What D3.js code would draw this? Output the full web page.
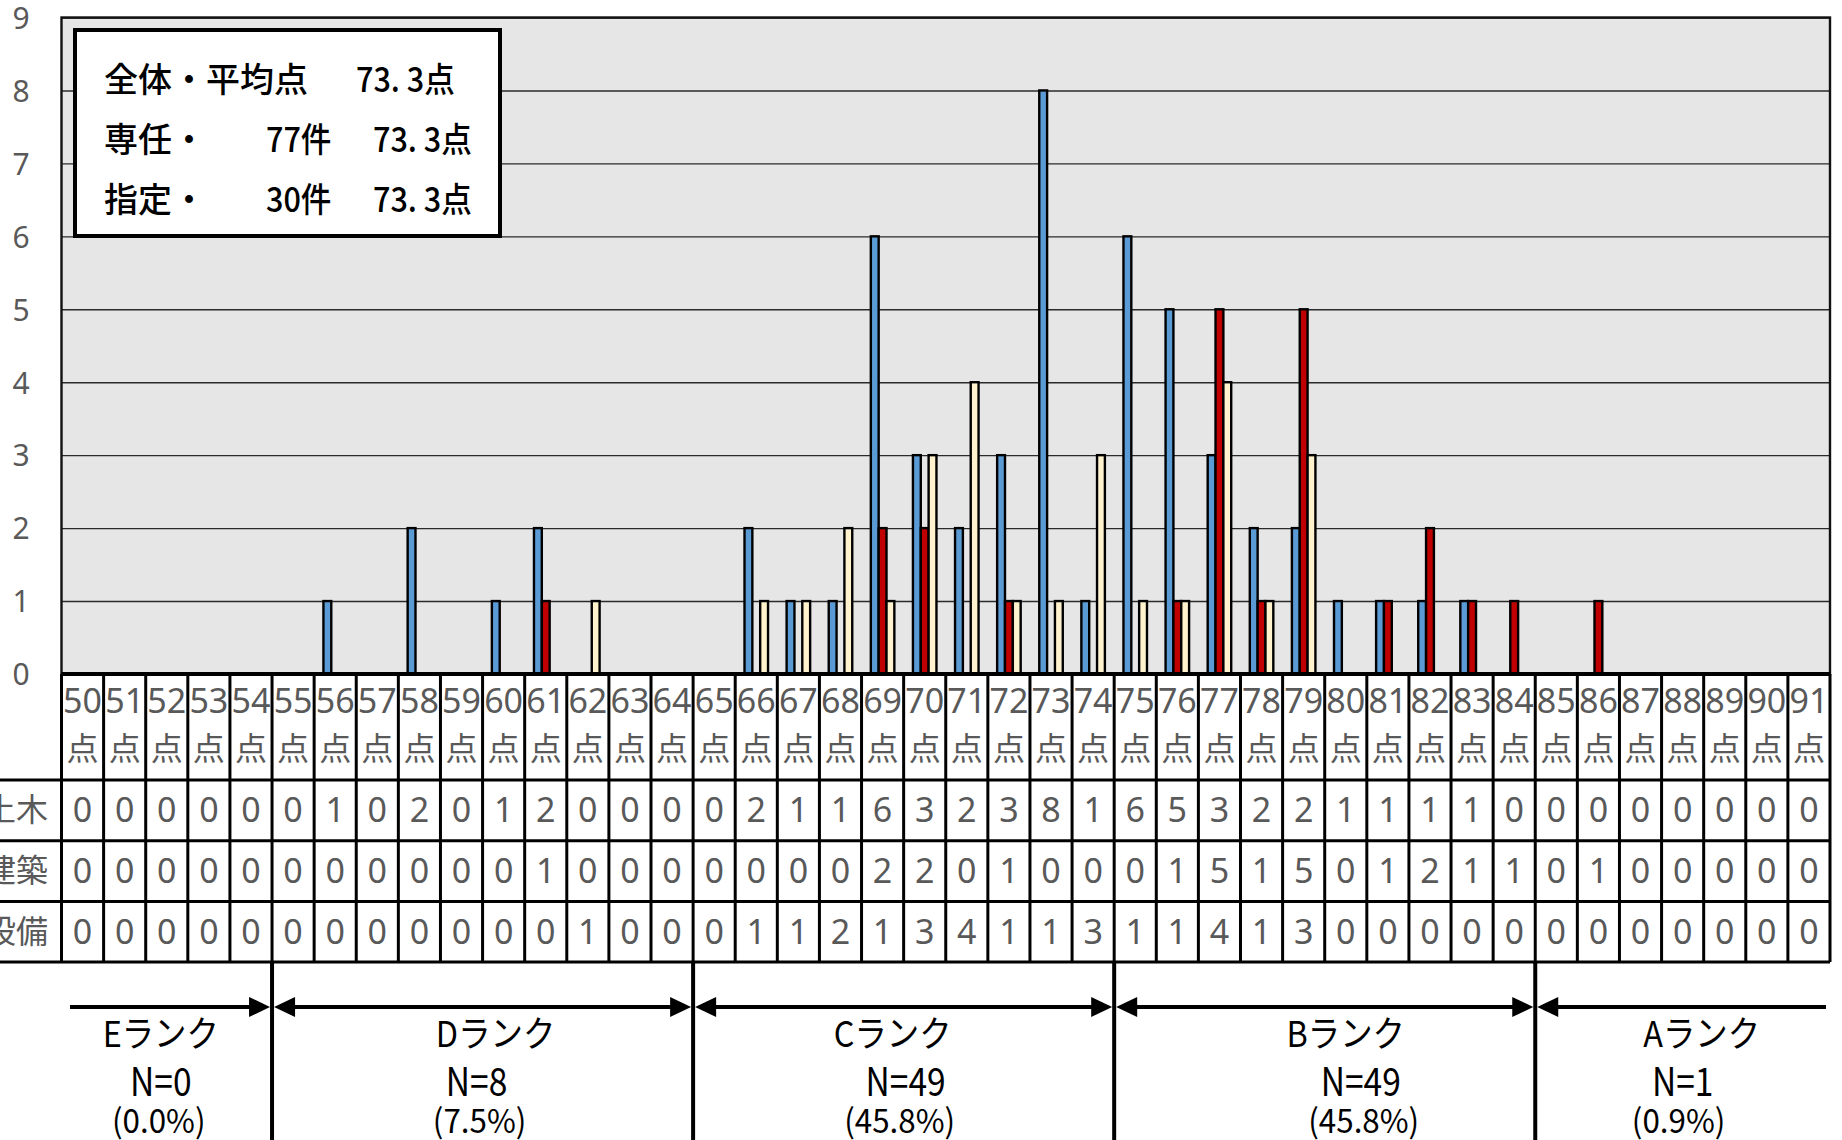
<!DOCTYPE html>
<html><head><meta charset="utf-8">
<script src="https://cdn.jsdelivr.net/npm/d3@7"></script>
<style>
html,body{margin:0;padding:0;background:#fff;overflow:hidden;}
svg{display:block;}
</style></head>
<body>
<svg id="chart" width="1842" height="1140"></svg>
<script>
// ---------- data ----------
const categories = d3.range(50, 92).map(String); // 50..91 点
const seriesNames = ["土木", "建築", "設備"];
const doboku  = [0,0,0,0,0,0,1,0,2,0,1,2,0,0,0,0,2,1,1,6,3,2,3,8,1,6,5,3,2,2,1,1,1,1,0,0,0,0,0,0,0,0];
const kenchiku= [0,0,0,0,0,0,0,0,0,0,0,1,0,0,0,0,0,0,0,2,2,0,1,0,0,0,1,5,1,5,0,1,2,1,1,0,1,0,0,0,0,0];
const setsubi = [0,0,0,0,0,0,0,0,0,0,0,0,1,0,0,0,1,1,2,1,3,4,1,1,3,1,1,4,1,3,0,0,0,0,0,0,0,0,0,0,0,0];
const seriesValues = [doboku, kenchiku, setsubi];
const seriesColors = ["#5b9bd5", "#c00000", "#fff2cc"];
const yTicks = [0,1,2,3,4,5,6,7,8,9];
const legendLines = [
  ["全体・平均点", "", "73. 3点"],
  ["専任・", "77件", "73. 3点"],
  ["指定・", "30件", "73. 3点"]
];
const rankNames = ["Eランク", "Dランク", "Cランク", "Bランク", "Aランク"];
const rankN     = ["N=0", "N=8", "N=49", "N=49", "N=1"];
const rankPct   = ["(0.0%)", "(7.5%)", "(45.8%)", "(45.8%)", "(0.9%)"];
const rankFirst = ["50", "55", "65", "75", "85"];
const rankLast  = ["54", "64", "74", "84", "91"];

// ---------- layout ----------
const svg = d3.select("#chart");
const L = 61.5, R = 1830, T = 17.5, B = 674;
const hdrBot = 780, rowH = 60.7;
const gray = "#595959";
const jp = "'Noto Sans CJK JP', 'Noto Sans', sans-serif";
const lat = "'Noto Sans', 'Open Sans', sans-serif";

const x = d3.scaleBand().domain(categories).range([L, R]).padding(0);
const bw = x.bandwidth();
const gw = bw / 1.79;
const xs = d3.scaleBand().domain(seriesNames).range([(bw - gw) / 2, (bw + gw) / 2]).padding(0);
const y = d3.scaleLinear().domain([0, 9]).range([B, T]);

// plot background
svg.append("rect").attr("x", L).attr("y", T).attr("width", R - L).attr("height", B - T)
  .attr("fill", "#e6e6e6");

// gridlines + y labels via axis
const yAxis = svg.append("g").attr("transform", `translate(${L},0)`)
  .call(d3.axisLeft(y).tickValues(yTicks).tickSize(-(R - L)).tickPadding(0));
yAxis.select(".domain").remove();
yAxis.selectAll(".tick line").attr("stroke", "#2a2a2a").attr("stroke-width", 1.4);
yAxis.selectAll(".tick text").attr("x", 21 - L).attr("dy", "0.36em").attr("text-anchor", "middle")
  .attr("fill", gray).style("font-family", lat).style("font-size", "30px");

// bars
seriesNames.forEach((s, si) => {
  const data = categories.map((c, i) => ({c, v: seriesValues[si][i]})).filter(d => d.v > 0);
  svg.append("g").selectAll("rect").data(data).join("rect")
    .attr("x", d => x(d.c) + xs(s))
    .attr("y", d => y(d.v))
    .attr("width", xs.bandwidth())
    .attr("height", d => y(0) - y(d.v))
    .attr("fill", seriesColors[si])
    .attr("stroke", "#000").attr("stroke-width", 2.4);
});

// plot border
svg.append("rect").attr("x", L).attr("y", T).attr("width", R - L).attr("height", B - T)
  .attr("fill", "none").attr("stroke", "#111").attr("stroke-width", 2.4);

// legend box
const lg = svg.append("g");
lg.append("rect").attr("x", 75).attr("y", 30).attr("width", 425).attr("height", 206)
  .attr("fill", "#fff").attr("stroke", "#000").attr("stroke-width", 4);
const lgX = [[104, 0, 356], [104, 266, 373], [104, 266, 373]];
legendLines.forEach((ln, i) => {
  ln.forEach((t, j) => {
    if (!t) return;
    lg.append("text").attr("transform", `translate(${lgX[i][j]},${92 + i * 60}) scale(${j === 0 ? 1 : 0.9},1)`)
      .text(t).style("font-family", jp).style("font-size", "34px").style("font-weight", 500)
      .attr("fill", "#000");
  });
});

// ---------- data table ----------
const tb = svg.append("g");
const rowTops = [hdrBot, hdrBot + rowH, hdrBot + 2 * rowH];
const tableBot = hdrBot + 3 * rowH;
tb.append("rect").attr("x", L).attr("y", B).attr("width", R - L).attr("height", tableBot - B).attr("fill", "#fff");
// header text
categories.forEach(c => {
  const cx = x(c) + bw / 2;
  tb.append("text").attr("x", cx).attr("y", 713).attr("text-anchor", "middle").text(c)
    .style("font-family", lat).style("font-size", "34px").attr("fill", gray);
  tb.append("text").attr("x", cx).attr("y", 760).attr("text-anchor", "middle").text("点")
    .style("font-family", jp).style("font-size", "32px").attr("fill", gray);
});
// values
seriesNames.forEach((s, si) => {
  const cy = rowTops[si] + rowH / 2;
  tb.append("text").attr("x", 48).attr("y", cy + 11).attr("text-anchor", "end").text(s)
    .style("font-family", jp).style("font-size", "32px").attr("fill", gray);
  categories.forEach((c, i) => {
    tb.append("text").attr("x", x(c) + bw / 2).attr("y", cy + 12).attr("text-anchor", "middle")
      .text(seriesValues[si][i]).style("font-family", lat).style("font-size", "34px").attr("fill", gray);
  });
});
// grid lines of table
tb.append("line").attr("x1", L).attr("x2", R).attr("y1", B).attr("y2", B)
  .attr("stroke", "#000").attr("stroke-width", 4);
[hdrBot, ...rowTops.slice(1), tableBot].forEach(yy => {
  tb.append("line").attr("x1", 0).attr("x2", R).attr("y1", yy).attr("y2", yy)
    .attr("stroke", "#000").attr("stroke-width", 3);
});
categories.concat(["end"]).forEach((c, i) => {
  const xx = i < categories.length ? x(c) : R;
  tb.append("line").attr("x1", xx).attr("x2", xx).attr("y1", B).attr("y2", tableBot)
    .attr("stroke", "#000").attr("stroke-width", 3);
});

// ---------- rank section ----------
const rk = svg.append("g");
const arrowY = 1007, ah = 21, aw = 10;
const dividers = rankFirst.slice(1).map(c => x(c));
dividers.forEach(xx => {
  rk.append("line").attr("x1", xx).attr("x2", xx).attr("y1", tableBot).attr("y2", 1140)
    .attr("stroke", "#000").attr("stroke-width", 4);
});
function head(xTip, dir) {
  const p = d3.path();
  p.moveTo(xTip, arrowY);
  p.lineTo(xTip - dir * ah, arrowY - aw);
  p.lineTo(xTip - dir * ah, arrowY + aw);
  p.closePath();
  rk.append("path").attr("d", p.toString()).attr("fill", "#000");
}
function rtext(cx, yy, t, size, sx) {
  rk.append("text").attr("transform", `translate(${cx},${yy}) scale(${sx},1)`)
    .attr("text-anchor", "middle").text(t)
    .style("font-family", jp).style("font-size", size + "px").attr("fill", "#000");
}
const textDx = [[-6, -6, -8], [13, -6, -3], [-11, 2, -4], [21, 36, 39], [19, 0, -4]];
rankNames.forEach((nm, i) => {
  const x0 = x(rankFirst[i]);
  const x1 = x(rankLast[i]) + bw;
  const leftHead = i > 0, rightHead = i < rankNames.length - 1;
  const lx0 = leftHead ? x0 + 2 : 70;
  const lx1 = rightHead ? x1 - 2 : 1826;
  rk.append("line").attr("x1", lx0 + (leftHead ? ah - 2 : 0)).attr("x2", lx1 - (rightHead ? ah - 2 : 0))
    .attr("y1", arrowY).attr("y2", arrowY).attr("stroke", "#000").attr("stroke-width", 4);
  if (leftHead) head(lx0, -1);
  if (rightHead) head(lx1, 1);
  const cx = (x0 + x1) / 2;
  rtext(cx + textDx[i][0], 1047, nm, 36, 0.9);
  rtext(cx + textDx[i][1], 1096, rankN[i], 39, 0.86);
  rtext(cx + textDx[i][2], 1133, rankPct[i], 33, 0.95);
});
</script>
</body></html>
